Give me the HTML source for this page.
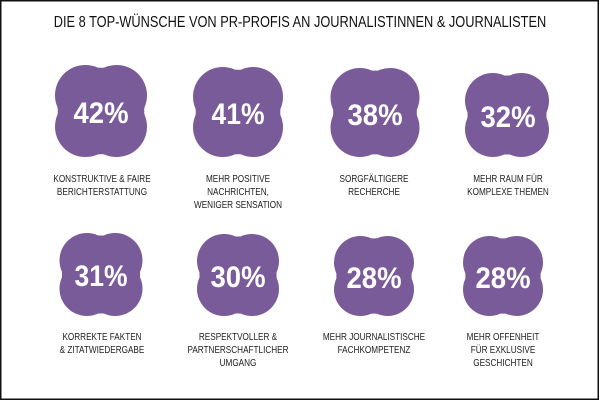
<!DOCTYPE html>
<html><head><meta charset="utf-8"><style>
html,body{margin:0;padding:0;background:#fff}
svg{display:block}
text{font-family:"Liberation Sans Narrow","Liberation Sans",sans-serif}
</style></head><body>
<svg width="600" height="400" viewBox="0 0 600 400" xmlns="http://www.w3.org/2000/svg">
<defs>
<g id="b"><circle cx="-17" cy="-17" r="33"/><circle cx="17" cy="-17" r="33"/><circle cx="-17" cy="17" r="33"/><circle cx="17" cy="17" r="33"/><rect x="-47" y="-47" width="94" height="94" rx="28"/></g>
</defs>
<rect x="0" y="0" width="600" height="400" fill="#fff"/>
<rect x="0.75" y="0.75" width="597.5" height="398.5" fill="none" stroke="#111" stroke-width="1.5"/>
<text transform="translate(300 27) scale(0.8 1)" x="0" y="0" text-anchor="middle" font-size="16" fill="#111">DIE 8 TOP-WÜNSCHE VON PR-PROFIS AN JOURNALISTINNEN &amp; JOURNALISTEN</text>
<g fill="#7a5b99">
<use href="#b" transform="translate(101,111) scale(0.92)"/>
<use href="#b" transform="translate(238,112) scale(0.90)"/>
<use href="#b" transform="translate(375,112.5) scale(0.89)"/>
<use href="#b" transform="translate(507,115) scale(0.84)"/>
<use href="#b" transform="translate(101,274.5) scale(0.83)"/>
<use href="#b" transform="translate(238,275) scale(0.82)"/>
<use href="#b" transform="translate(374,276) scale(0.80)"/>
<use href="#b" transform="translate(503,276) scale(0.80)"/>
</g>
<g fill="#fff" font-weight="bold" font-size="30" text-anchor="middle">
<text x="101" y="123" textLength="55" lengthAdjust="spacingAndGlyphs">42%</text>
<text x="238" y="124" textLength="53" lengthAdjust="spacingAndGlyphs">41%</text>
<text x="375" y="125" textLength="55" lengthAdjust="spacingAndGlyphs">38%</text>
<text x="508" y="127" textLength="55" lengthAdjust="spacingAndGlyphs">32%</text>
<text x="101" y="286" textLength="53" lengthAdjust="spacingAndGlyphs">31%</text>
<text x="238" y="287" textLength="55" lengthAdjust="spacingAndGlyphs">30%</text>
<text x="374" y="288" textLength="55" lengthAdjust="spacingAndGlyphs">28%</text>
<text x="503" y="288" textLength="55" lengthAdjust="spacingAndGlyphs">28%</text>
</g>
<g fill="#222" font-size="10.5" text-anchor="middle">
<text transform="translate(102 182) scale(0.78 1)">KONSTRUKTIVE &amp; FAIRE</text>
<text transform="translate(102 195) scale(0.78 1)">BERICHTERSTATTUNG</text>
<text transform="translate(238 182) scale(0.78 1)">MEHR POSITIVE</text>
<text transform="translate(238 195) scale(0.78 1)">NACHRICHTEN,</text>
<text transform="translate(238 208) scale(0.78 1)">WENIGER SENSATION</text>
<text transform="translate(374 182) scale(0.78 1)">SORGFÄLTIGERE</text>
<text transform="translate(374 195) scale(0.78 1)">RECHERCHE</text>
<text transform="translate(508 182) scale(0.78 1)">MEHR RAUM FÜR</text>
<text transform="translate(508 195) scale(0.78 1)">KOMPLEXE THEMEN</text>
<text transform="translate(102 340) scale(0.78 1)">KORREKTE FAKTEN</text>
<text transform="translate(102 353) scale(0.78 1)">&amp; ZITATWIEDERGABE</text>
<text transform="translate(238 340) scale(0.78 1)">RESPEKTVOLLER &amp;</text>
<text transform="translate(238 353) scale(0.78 1)">PARTNERSCHAFTLICHER</text>
<text transform="translate(238 366) scale(0.78 1)">UMGANG</text>
<text transform="translate(374 340) scale(0.78 1)">MEHR JOURNALISTISCHE</text>
<text transform="translate(374 353) scale(0.78 1)">FACHKOMPETENZ</text>
<text transform="translate(503 340) scale(0.78 1)">MEHR OFFENHEIT</text>
<text transform="translate(503 353) scale(0.78 1)">FÜR EXKLUSIVE</text>
<text transform="translate(503 366) scale(0.78 1)">GESCHICHTEN</text>
</g>
</svg>
</body></html>
